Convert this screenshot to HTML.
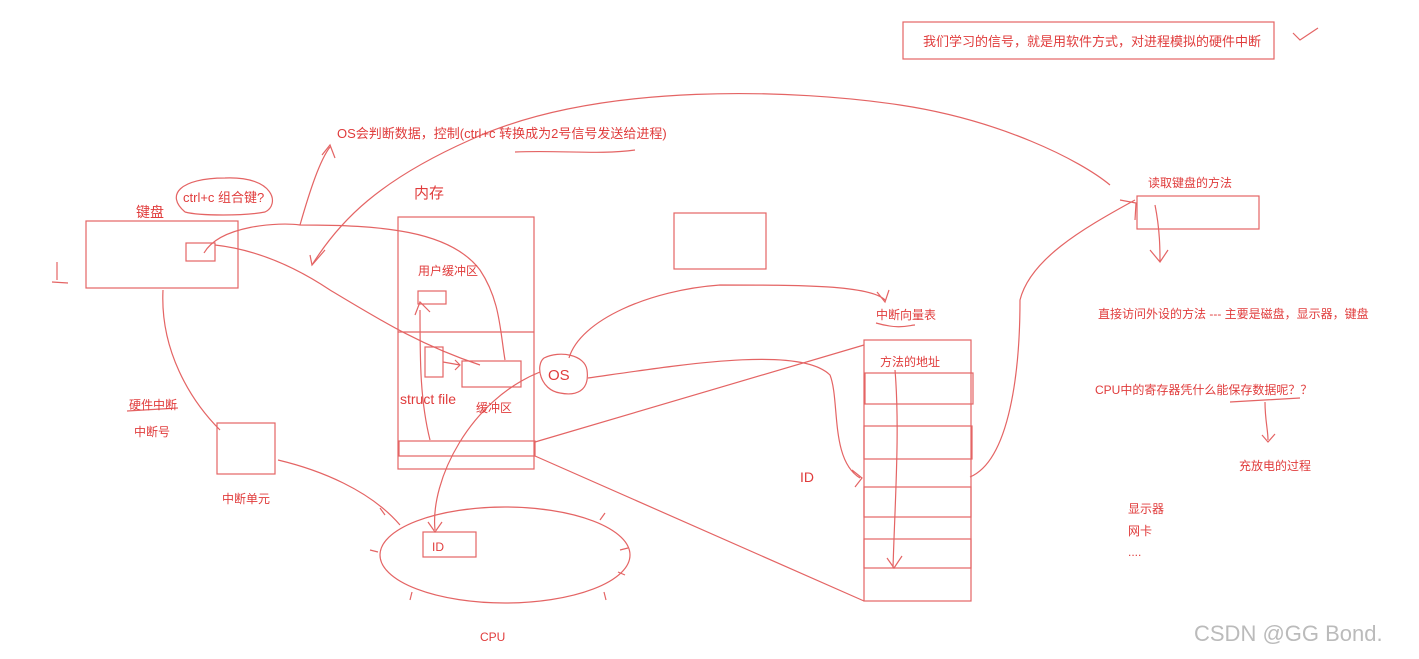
<!DOCTYPE html>
<html><head><meta charset="utf-8"><style>
body{margin:0;background:#fff;width:1419px;height:659px;overflow:hidden}
svg{display:block}
text{font-family:"Liberation Sans","Noto Sans CJK SC",sans-serif;fill:#e03c3c}
</style></head><body>
<svg width="1419" height="659" viewBox="0 0 1419 659" xmlns="http://www.w3.org/2000/svg">
<g fill="none" stroke="#e46464" stroke-width="1.2">
<rect x="903" y="22" width="371" height="37"/>
<path d="M1293 33 L1300 40 L1318 28"/>
<rect x="86" y="221" width="152" height="67"/>
<rect x="186" y="243" width="29" height="18"/>
<path d="M185 212 C165 195 180 178 225 178 C275 176 280 205 265 212 C245 216 200 216 185 212"/>
<path d="M52 282 L68 283 M57 262 L57 280"/>
<rect x="398" y="217" width="136" height="252"/>
<line x1="398" y1="332" x2="534" y2="332"/>
<rect x="399" y="441" width="136" height="15"/>
<rect x="418" y="291" width="28" height="13"/>
<rect x="425" y="347" width="18" height="30"/>
<rect x="462" y="361" width="59" height="26"/>
<rect x="674" y="213" width="92" height="56"/>
<path d="M544 358 C560 350 585 355 587 370 C590 392 575 396 560 393 C540 390 535 365 544 358"/>
<rect x="864" y="340" width="107" height="261"/>
<rect x="865" y="373" width="108" height="31"/>
<rect x="864" y="426" width="108" height="33"/>
<rect x="864" y="487" width="107" height="30"/>
<rect x="864" y="539" width="107" height="29"/>
<rect x="1137" y="196" width="122" height="33"/>
<rect x="217" y="423" width="58" height="51"/>
<ellipse cx="505" cy="555" rx="125" ry="48"/>
<rect x="423" y="532" width="53" height="25"/>
<!-- curves -->
<path d="M204 253 C220 225 280 222 300 225 C380 225 450 230 480 270 C500 300 500 330 505 360"/>
<path d="M215 245 C260 250 300 270 330 290 C380 320 420 345 480 365"/>
<path d="M300 225 C310 190 320 160 330 147 M322 155 L330 145 L335 158"/>
<path d="M312 265 C340 220 380 180 470 140 C600 80 800 90 900 105 C1000 120 1080 160 1110 185"/>
<path d="M310 255 L312 265 L325 250"/>
<path d="M430 440 C420 400 420 360 420 310 M415 315 L420 302 L430 312"/>
<path d="M443 362 L460 365 M455 360 L460 365 L455 370"/>
<path d="M163 290 C160 350 190 400 220 430"/>
<path d="M278 460 C320 470 370 490 400 525"/>
<path d="M540 372 C470 400 430 480 435 530 M428 522 L435 532 L442 522"/>
<path d="M569 358 C580 320 650 290 720 285 C800 285 870 285 885 300 M877 292 L885 302 L889 290"/>
<path d="M588 378 C680 365 800 345 830 375 C840 400 830 460 860 478 M852 470 L862 478 L855 487"/>
<path d="M535 442 L864 345 M535 456 L864 601"/>
<path d="M970 477 C1010 460 1020 370 1020 300 C1030 260 1080 230 1135 200 M1120 200 L1136 203 L1135 220"/>
<path d="M1155 205 C1160 230 1160 250 1160 262 M1150 250 L1160 262 L1168 250"/>
<path d="M895 370 C900 430 895 500 893 568 M887 558 L894 568 L902 556"/>
<path d="M1230 402 L1300 398 M1265 402 C1265 420 1268 430 1268 440 M1262 435 L1268 442 L1275 434"/>
<path d="M515 152 C560 150 600 155 635 150"/>
<path d="M127 411 L178 408 M876 323 C900 330 910 325 915 325"/>
<path d="M380 508 L385 515 M605 513 L600 520 M628 548 L620 550 M625 575 L618 572 M410 600 L412 592 M606 600 L604 592 M370 550 L378 552"/>
</g>
<g font-size="13">
<text x="923" y="46">我们学习的信号，就是用软件方式，对进程模拟的硬件中断</text>
<text x="337" y="138">OS会判断数据，控制(ctrl+c 转换成为2号信号发送给进程)</text>
<text x="183" y="202">ctrl+c 组合键?</text>
<text x="136" y="217" font-size="14">键盘</text>
<text x="414" y="198" font-size="15">内存</text>
<text x="418" y="275" font-size="12">用户缓冲区</text>
<text x="400" y="404" font-size="14">struct file</text>
<text x="476" y="412" font-size="12">缓冲区</text>
<text x="548" y="380" font-size="15">OS</text>
<text x="876" y="319" font-size="12">中断向量表</text>
<text x="880" y="366" font-size="12">方法的地址</text>
<text x="1148" y="187" font-size="12">读取键盘的方法</text>
<text x="1098" y="318" font-size="12">直接访问外设的方法 --- 主要是磁盘，显示器，键盘</text>
<text x="1095" y="394" font-size="12">CPU中的寄存器凭什么能保存数据呢？？</text>
<text x="1239" y="470" font-size="12">充放电的过程</text>
<text x="1128" y="513" font-size="12">显示器</text>
<text x="1128" y="535" font-size="12">网卡</text>
<text x="1128" y="556" font-size="12">....</text>
<text x="129" y="409" font-size="12">硬件中断</text>
<text x="134" y="436" font-size="12">中断号</text>
<text x="222" y="503" font-size="12">中断单元</text>
<text x="432" y="551" font-size="12">ID</text>
<text x="800" y="482" font-size="14">ID</text>
<text x="480" y="641" font-size="12">CPU</text>
<text x="1194" y="641" font-size="22" style="fill:#bbb">CSDN @GG Bond.</text>
</g>
</svg>
</body></html>
